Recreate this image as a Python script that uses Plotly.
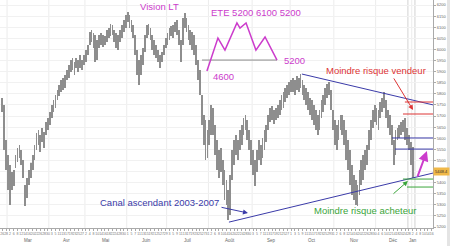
import pandas as pd
import plotly.graph_objects as go

# ---- data ----
high = [5781, 5750, 5592, 5524, 5479, 5448, 5457, 5524, 5556, 5569,
        5547, 5502, 5389, 5421, 5457, 5489, 5524, 5569, 5623, 5637,
        5614, 5646, 5628, 5673, 5691, 5718, 5750, 5772, 5795, 5817,
        5840, 5862, 5871, 5885, 5907, 5930, 5952, 5961, 5943, 5961,
        5952, 5975, 5952, 5975, 5997, 6020, 6078, 6087, 6074, 6065,
        6042, 6065, 6074, 6065, 6060, 6087, 6096, 6114, 6110, 6087,
        6074, 6065, 6087, 6110, 6132, 6155, 6168, 6155, 6132, 6110,
        6065, 5997, 5952, 5975, 6006, 6065, 6110, 6114, 6096, 6065,
        6042, 6020, 5997, 5975, 5988, 6020, 6051, 6074, 6096, 6105,
        6110, 6123, 6132, 6087, 6042, 6141, 6164, 6141, 6110, 6087,
        6078, 6065, 6020, 5952, 5907, 5795, 5704, 5682, 5637, 5682,
        5750, 5736, 5659, 5592, 5547, 5556, 5502, 5457, 5412, 5367,
        5434, 5547, 5592, 5614, 5592, 5637, 5659, 5691, 5704, 5682,
        5637, 5592, 5547, 5502, 5547, 5592, 5569, 5601, 5637, 5659,
        5704, 5736, 5745, 5727, 5736, 5750, 5772, 5795, 5808, 5826,
        5840, 5853, 5862, 5871, 5862, 5880, 5871, 5889, 5862, 5840,
        5826, 5808, 5781, 5772, 5750, 5727, 5704, 5727, 5772, 5795,
        5826, 5844, 5853, 5817, 5727, 5682, 5659, 5682, 5704, 5704,
        5682, 5637, 5592, 5547, 5479, 5434, 5412, 5389, 5457, 5502,
        5524, 5547, 5569, 5637, 5682, 5727, 5750, 5736, 5727, 5763,
        5781, 5808, 5772, 5727, 5704, 5659, 5592, 5637, 5646, 5659,
        5673, 5682, 5691, 5646, 5614, 5583, 5560]
low = [5718, 5547, 5457, 5367, 5299, 5367, 5385, 5466, 5493, 5511,
       5479, 5421, 5295, 5331, 5389, 5421, 5457, 5502, 5547, 5569,
       5538, 5583, 5556, 5614, 5637, 5659, 5691, 5718, 5736, 5772,
       5790, 5808, 5817, 5826, 5862, 5871, 5898, 5907, 5885, 5916,
       5898, 5916, 5907, 5930, 5943, 5975, 6020, 6033, 6006, 5943,
       5952, 6006, 6020, 6011, 6020, 6033, 6051, 6060, 6065, 6033,
       6006, 5997, 6033, 6051, 6078, 6096, 6123, 6096, 6078, 6051,
       5975, 5885, 5840, 5885, 5930, 5988, 6051, 6065, 6042, 5997,
       5975, 5961, 5943, 5916, 5943, 5975, 6006, 6020, 6042, 6060,
       6051, 6078, 6065, 6020, 5943, 6020, 6096, 6078, 6042, 6020,
       5997, 5975, 5930, 5862, 5795, 5659, 5569, 5502, 5511, 5569,
       5614, 5614, 5524, 5457, 5421, 5448, 5389, 5322, 5299, 5232,
       5254, 5412, 5479, 5524, 5502, 5547, 5569, 5614, 5637, 5592,
       5547, 5479, 5434, 5385, 5448, 5502, 5479, 5511, 5547, 5583,
       5637, 5673, 5682, 5664, 5682, 5691, 5704, 5727, 5736, 5763,
       5781, 5795, 5808, 5808, 5795, 5817, 5808, 5826, 5795, 5772,
       5750, 5727, 5704, 5682, 5659, 5637, 5614, 5637, 5691, 5718,
       5750, 5781, 5795, 5727, 5637, 5569, 5547, 5592, 5637, 5614,
       5569, 5502, 5457, 5389, 5344, 5322, 5299, 5295, 5344, 5389,
       5412, 5457, 5479, 5547, 5592, 5646, 5673, 5659, 5637, 5691,
       5718, 5736, 5691, 5646, 5614, 5569, 5479, 5524, 5592, 5601,
       5614, 5628, 5592, 5569, 5547, 5479, 5421]
y_ticks = list(range(5200, 6201, 50))
holidays = ["2007-04-06", "2007-04-09", "2007-05-01", "2007-12-25",
            "2007-12-26", "2008-01-01"]
month_names = ["Mar", "Avr", "Mai", "Juin", "Juil", "Août", "Sep", "Oct",
               "Nov", "Déc", "Jan"]
last_price = 5448
last_label = "5448.4"

# ---- trading-day calendar ----
dates = [d for d in pd.bdate_range("2007-02-26", "2008-01-18")
         if d.strftime("%Y-%m-%d") not in holidays]
n = len(high)
idx = list(range(n))

FONT = "Liberation Sans, Arial, sans-serif"
MAG = "#cc3ccc"
BLUE = "#3a3aa8"
RED = "#dd3535"
GREEN = "#3aa53a"

fig = go.Figure()
fig.add_trace(go.Bar(
    x=idx, base=low, y=[h - l for h, l in zip(high, low)],
    width=0.42, marker=dict(color="#8e8e8e", line=dict(width=0)),
    showlegend=False, hoverinfo="skip"))

# month positions
groups = {}
for i in range(n):
    key = (dates[i].year, dates[i].month)
    groups.setdefault(key, []).append(i)
keys = sorted(groups.keys())[1:]  # skip partial February
shapes = []
annotations = []
for name, key in zip(month_names, keys):
    ids = groups[key]
    annotations.append(dict(x=sum(ids) / len(ids), y=-0.055, xref="x", yref="paper",
                            text=name, showarrow=False, yanchor="middle",
                            font=dict(family=FONT, size=4.5, color="#666")))
    shapes.append(dict(type="line", xref="x", yref="paper", x0=ids[0] - 0.5,
                       x1=ids[0] - 0.5, y0=0, y1=1,
                       line=dict(color="#ececec", width=1), layer="below"))

for xv in (213.5, 217.2):
    shapes.append(dict(type="line", xref="x", yref="paper", x0=xv, x1=xv, y0=0, y1=1,
                       line=dict(color="#d2d2d2", width=1), layer="below"))

def seg(x0, y0, x1, y1, color, w=1):
    return dict(type="line", xref="x", yref="y", x0=x0, y0=y0, x1=x1, y1=y1,
                line=dict(color=color, width=w))

xend = 226.7
# trend lines
shapes.append(seg(157.7, 5889, xend, 5750, BLUE))
shapes.append(seg(119.3, 5222, xend, 5443, BLUE))
# neckline
shapes.append(seg(105.1, 5952, 144.6, 5952, "#8a8a8a"))
# head & shoulders sketch
shapes.append(dict(type="path", xref="x", yref="y",
                   path="M107.7,5903 L113.5,6051 L117.2,5997 L123.5,6119 L125.1,6096 "
                        "L128.3,6119 L133.5,5997 L138.3,6056 L144.6,5952",
                   line=dict(color=MAG, width=1.5)))
# horizontal levels
shapes.append(seg(211.9, 5763, xend, 5763, RED))
shapes.append(seg(210.9, 5709, xend, 5709, RED))
shapes.append(seg(205.1, 5601, xend, 5601, BLUE))
shapes.append(seg(206.7, 5551, xend, 5551, BLUE))
shapes.append(seg(210.9, 5416, xend, 5416, GREEN))
shapes.append(seg(213.0, 5380, xend, 5380, GREEN))
# grey strip at right
shapes.append(dict(type="rect", xref="paper", yref="paper", x0=447 / 433, x1=1.06,
                   y0=-0.1, y1=1.0, fillcolor="#e4e4e4", line=dict(width=0)))

def txt(x, y, s, color, anchor="center"):
    return dict(x=x, y=y, xref="x", yref="y", text=s, showarrow=False,
                xanchor=anchor, yanchor="middle",
                font=dict(family=FONT, size=9.5, color=color))

def arrow(tx, ty, hx, hy, color, w=1):
    return dict(x=hx, y=hy, ax=tx, ay=ty, xref="x", yref="y", axref="x", ayref="y",
                text="", showarrow=True, arrowhead=2, arrowsize=1,
                arrowwidth=w, arrowcolor=color, standoff=0, startstandoff=0)

annotations += [
    txt(82.5, 6193, "Vision LT", MAG),
    txt(133.5, 6168, "ETE 5200 6100 5200", MAG),
    txt(109.6, 5876, "4600", MAG, "left"),
    txt(147.2, 5952, "5200", MAG, "left"),
    txt(82.5, 5312, "Canal ascendant 2003-2007", BLUE),
    txt(196.7, 5903, "Moindre risque vendeur", RED),
    txt(190.9, 5276, "Moindre risque acheteur", GREEN),
    arrow(205.6, 5876, 216.2, 5727, RED),
    arrow(114.6, 5290, 129.3, 5263, BLUE),
    arrow(205.1, 5344, 213.5, 5407, GREEN),
    arrow(218.3, 5421, 223.5, 5542, MAG, 2),
    dict(x=1.0, y=last_price, xref="paper", yref="y", text=last_label, showarrow=False,
         xanchor="left", yanchor="middle", bgcolor="#f0b848", borderpad=1,
         font=dict(family=FONT, size=4, color="#333")),
]

tickvals = list(range(0, 227, 2))
ticktext = [str(dates[i].day) for i in tickvals]
# the tick hidden under the last-price tag
y_ticktext = ["" if v == 5450 else str(v) for v in y_ticks]

fig.update_layout(
    width=450, height=246,
    margin=dict(l=0, r=17, t=0, b=18),
    paper_bgcolor="white", plot_bgcolor="white",
    showlegend=False,
    shapes=shapes, annotations=annotations,
    xaxis=dict(range=[-1.21, xend], tickvals=tickvals, ticktext=ticktext,
               tickangle=0, tickfont=dict(family=FONT, size=3.5, color="#777"),
               ticks="outside", ticklen=2, tickcolor="#aaa", showgrid=False,
               showline=True, linecolor="#aaa", linewidth=1, zeroline=False),
    yaxis=dict(side="right", range=[5195.5, 6222.5], tickvals=y_ticks,
               ticktext=y_ticktext,
               tickfont=dict(family=FONT, size=4, color="#666"),
               ticks="outside", ticklen=2, tickcolor="#aaa",
               showgrid=True, gridcolor="#f1f1f1", gridwidth=1,
               showline=True, linecolor="#aaa", linewidth=1, zeroline=False),
)

fig.write_html("out.html")
